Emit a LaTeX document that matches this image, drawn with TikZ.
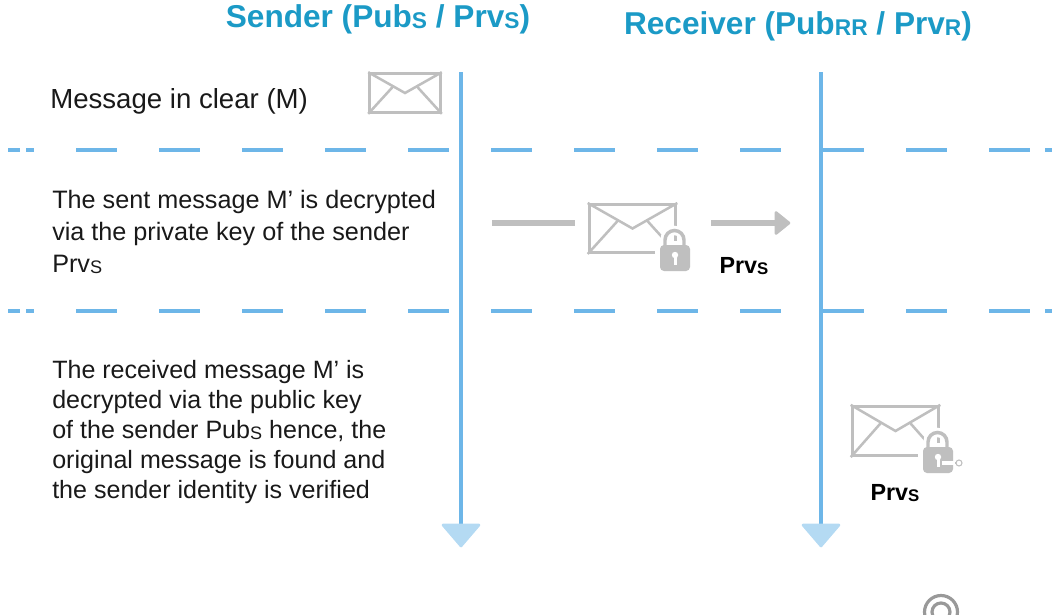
\documentclass[tikz,border=0pt]{standalone}
\usepackage{fontspec}
\setmainfont{Liberation Sans}
\usetikzlibrary{positioning,calc}
\definecolor{TitleBlue}{HTML}{1B9AC6}
\definecolor{RuleBlue}{HTML}{6DB6E8}
\definecolor{TipBlue}{HTML}{B4DAF3}
\definecolor{IconGrey}{HTML}{BFBFBF}
\tikzstyle{Title} = [font=\bfseries\fontsize{23.7}{26}\selectfont, text=TitleBlue, inner sep=0pt]
\tikzstyle{Note} = [font=\fontsize{18.8}{22.5}\selectfont, align=left, anchor=north west, inner sep=0pt, text=black!90]
\tikzstyle{KeyName} = [font=\bfseries\fontsize{17.5}{20}\selectfont, inner sep=0pt]
\tikzstyle{Lane} = [draw=RuleBlue, line width=3.4pt]
\tikzstyle{LaneTip} = [fill=TipBlue, draw=TipBlue, line width=2pt, line join=round]
\tikzstyle{Rule} = [draw=RuleBlue, line width=2.3pt]
\tikzstyle{Flow} = [draw=IconGrey, line width=3.8pt]
\tikzstyle{Letter} = [draw=IconGrey, line width=2.2pt, rectangle, inner sep=0pt]
\tikzstyle{LetterFold} = [draw=IconGrey, line width=1.9pt]
\tikzstyle{LockHalo} = [fill=white, rectangle, inner sep=0pt, minimum width=30pt, minimum height=25pt]
\tikzstyle{LockBody} = [fill=IconGrey, rectangle, rounded corners=3pt, inner sep=0pt, minimum width=22.5pt, minimum height=19.5pt]
\newcommand{\Low}[1]{\raisebox{-0.1ex}{\scalebox{0.72}{#1}}}
\newcommand{\Fold}[1]{
  \draw[LetterFold] (#1.north west) -- (#1.center) -- (#1.north east);
  \draw[LetterFold] (#1.south west) -- ($(#1.north west)!0.68!(#1.center)$);
  \draw[LetterFold] (#1.south east) -- ($(#1.north east)!0.68!(#1.center)$);
}
\newcommand{\Padlock}[2]{
  \node[LockHalo] (#2Halo) at (#1) {};
  \draw[white, line width=7pt] ($(#1)+(-10,-12)$) -- ++(0,-6) arc[start angle=180, end angle=360, radius=9.5] -- ++(0,6);
  \draw[IconGrey, line width=2.6pt] ($(#1)+(-10,-12)$) -- ++(0,-6) arc[start angle=180, end angle=360, radius=9.5] -- ++(0,6);
  \node[LockBody] (#2) at (#1) {};
  \fill[white] ($(#2.center)+(0,-3)$) circle[radius=3.2];
  \fill[white] ($(#2.center)+(-1.5,-3)$) rectangle ($(#2.center)+(1.5,7)$);
}

\begin{document}
\begin{tikzpicture}[x=0.75pt, y=-0.75pt]
    \useasboundingbox (0,0) rectangle (1052,614);

    % headings
    \node[Title] (sender)   at (378,19) {Sender (Pub\Low{S} / Prv\Low{S})};
    \node[Title] (receiver) at (798,26) {Receiver (Pub\Low{RR} / Prv\Low{R})};

    % horizontal separators
    \foreach \y/\rulename in {150/ruleA, 311/ruleB} {
      \coordinate (\rulename) at (76,\y);
      \draw[Rule, dash pattern=on 30.9pt off 31.35pt] (\rulename) -- ++(954,0);
      \draw[Rule, dash pattern=on 9pt off 4.5pt] (8,\y) -- (34,\y);
      \draw[Rule] (1045,\y) -- (1052,\y);
    }

    % lifelines
    \coordinate (senderTop)   at (461,72);
    \coordinate (senderEnd)   at (461,524);
    \coordinate (receiverTop) at (821,72);
    \coordinate (receiverEnd) at (821,524);
    \draw[Lane] (senderTop) -- (senderEnd);
    \draw[Lane] (receiverTop) -- (receiverEnd);
    \draw[LaneTip] (senderEnd) ++(-18,1) -- ++(36,0) -- ++(-18,21) -- cycle;
    \draw[LaneTip] (receiverEnd) ++(-18,1) -- ++(36,0) -- ++(-18,21) -- cycle;

    % step texts
    \node[Note, font=\fontsize{20.7}{24}\selectfont] (clear) at (50,88) {Message in clear (M)};
    \node[Note, font=\fontsize{18.9}{24}\selectfont] (sent) at (52,190) {The sent message M’ is decrypted\\via the private key of the sender\\Prv\Low{S}};
    \node[Note] (received) at (52,360) {The received message M’ is\\decrypted via the public key\\of the sender Pub\Low{S} hence, the\\original message is found and\\the sender identity is verified};

    % plain envelope
    \node[Letter, minimum width=53pt, minimum height=29pt] (plain) at (405,93) {};
    \Fold{plain}

    % sent envelope and flow
    \node[Letter, minimum width=65pt, minimum height=36pt] (sealed) at (632.5,228.5) {};
    \Fold{sealed}
    \Padlock{675,258}{sealedLock}
    \coordinate (flowStart) at (492,223);
    \coordinate (flowIn)    at (575,223);
    \coordinate (flowOut)   at (711,223);
    \coordinate (flowEnd)   at (776,223);
    \draw[Flow] (flowStart) -- (flowIn);
    \draw[Flow] (flowOut) -- (flowEnd);
    \fill[IconGrey, draw=IconGrey, line width=2pt, line join=round] (flowEnd) ++(0,-10.5) -- ++(13,10.5) -- ++(-13,10.5) -- cycle;
    \node[KeyName] (sentKey) at (744,266) {Prv\Low{S}};

    % received envelope
    \node[Letter, minimum width=65pt, minimum height=37pt] (opened) at (895.5,431) {};
    \Fold{opened}
    \Padlock{938,460}{openedLock}
    \draw[white, line width=2.5pt] (942,463) -- (955,463);
    \draw[IconGrey, line width=0.8pt] (955,463) -- (956,463);
    \draw[IconGrey, line width=0.8pt] (959,463) circle[radius=3];
    \node[KeyName] (openedKey) at (895,493) {Prv\Low{S}};

    % target cut by the lower edge
    \coordinate (target) at (941,612);
    \draw[IconGrey!80!black, line width=2.4pt] (target) circle[radius=16.5];
    \draw[IconGrey!80!black, line width=2.4pt] (target) circle[radius=9];
\end{tikzpicture}
\end{document}
